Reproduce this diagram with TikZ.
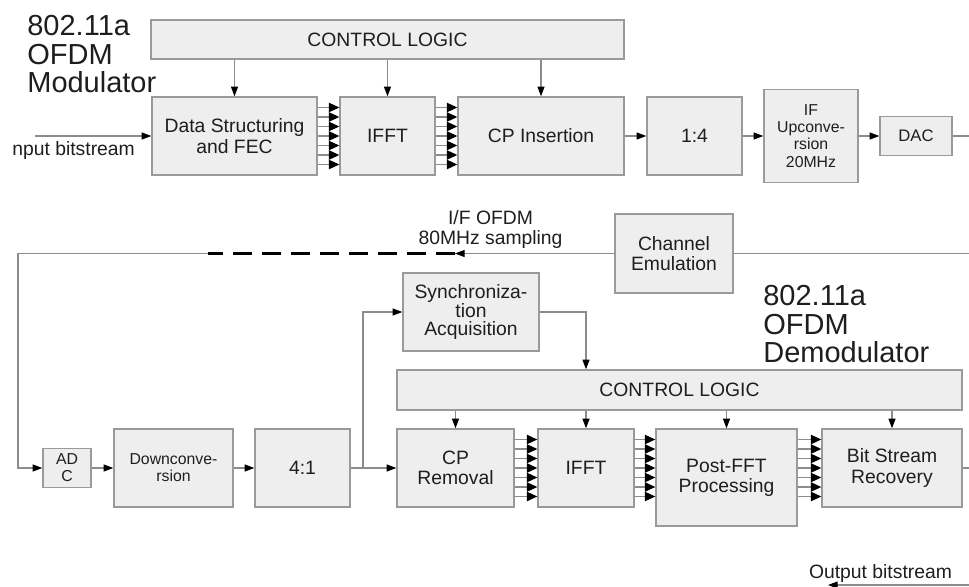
\documentclass[tikz,border=0pt]{standalone}
\usepackage{fontspec}
\setmainfont{Liberation Sans}
\usepackage{tikz}
\usetikzlibrary{positioning, arrows.meta, calc}
\definecolor{boxFill}{HTML}{EEEEEE}
\definecolor{boxLine}{HTML}{9A9A9A}
\definecolor{wireGray}{HTML}{8C8C8C}
\definecolor{inkDark}{HTML}{1E1E1E}

\begin{document}
\begin{tikzpicture}[
  blk/.style={draw=boxLine, fill=boxFill, line width=0.8pt, inner sep=1pt,
              font=\fontsize{11}{11.5}\selectfont, text=inkDark, align=center},
  smallblk/.style={blk, font=\fontsize{9}{9.8}\selectfont},
  title/.style={anchor=north west, inner sep=0pt, align=left,
                font=\fontsize{16.5}{16.2}\selectfont, text=inkDark},
  lbl/.style={inner sep=0pt, font=\fontsize{11}{11.3}\selectfont,
              text=inkDark, align=center},
  wire/.style={draw=wireGray, line width=0.6pt},
  arr/.style={wire, -{Triangle[length=5.5pt, width=4pt, color=black]}},
  bus/.style={wire, -{Triangle[length=6pt, width=5.4pt, color=black]}}
]
\useasboundingbox (0,0) rectangle (19.38,-11.72);

% modulator
\node[title] (txTitle) at (0.54,-0.30) {802.11a\\OFDM\\Modulator};
\node[blk, minimum width=9.46cm, minimum height=0.78cm] (ctrlTx) at (7.75,-0.79) {CONTROL LOGIC};
\node[blk, minimum width=3.30cm, minimum height=1.56cm] (dsf) at (4.69,-2.72) {Data Structuring\\and FEC};
\node[blk, minimum width=1.90cm, minimum height=1.56cm] (ifftTx) at (7.75,-2.72) {IFFT};
\node[blk, minimum width=3.32cm, minimum height=1.56cm] (cpIns) at (10.82,-2.72) {CP Insertion};
\node[blk, minimum width=1.90cm, minimum height=1.56cm] (quadTx) at (13.89,-2.72) {1:4};
\node[smallblk, minimum width=1.88cm, minimum height=1.86cm] (ifUp) at (16.22,-2.72) {IF\\Upconve-\\rsion\\20MHz};
\node[smallblk, font=\fontsize{9.5}{9.6}\selectfont, minimum width=1.44cm, minimum height=0.78cm] (dac) at (18.32,-2.72) {DAC};
\node[lbl, anchor=base west] (inLbl) at (0.24,-3.10) {nput bitstream};
\coordinate (inStart) at (0.70,-2.72);
\coordinate (txOut) at (19.38,-2.72);

% channel loop
\node[lbl, anchor=south] (ifLbl) at (9.81,-4.98) {I/F OFDM\\80MHz sampling};
\node[blk, minimum width=2.36cm, minimum height=1.58cm] (chan) at (13.48,-5.07) {Channel\\Emulation};
\coordinate (loopR) at (19.38,-5.07);
\coordinate (dashR) at (9.10,-5.07);
\coordinate (dashL) at (4.16,-5.07);
\coordinate (loopL) at (0.36,-5.07);

% demodulator
\node[title] (rxTitle) at (15.26,-5.70) {802.11a\\OFDM\\Demodulator};
\node[blk, font=\fontsize{11}{10.5}\selectfont, minimum width=2.72cm, minimum height=1.56cm] (sync) at (9.42,-6.24) {Synchroniza-\\tion\\Acquisition};
\node[blk, minimum width=11.30cm, minimum height=0.80cm] (ctrlRx) at (13.59,-7.80) {CONTROL LOGIC};
\node[smallblk, minimum width=0.96cm, minimum height=0.78cm] (adc) at (1.34,-9.36) {AD\\C};
\node[smallblk, minimum width=2.38cm, minimum height=1.56cm] (down) at (3.47,-9.36) {Downconve-\\rsion};
\node[blk, minimum width=1.90cm, minimum height=1.56cm] (quadRx) at (6.05,-9.36) {4:1};
\node[blk, minimum width=2.34cm, minimum height=1.56cm] (cpRem) at (9.11,-9.36) {CP\\Removal};
\node[blk, minimum width=1.92cm, minimum height=1.56cm] (ifftRx) at (11.72,-9.36) {IFFT};
\node[blk, minimum width=2.82cm, minimum height=1.94cm] (post) at (14.53,-9.55) {Post-FFT\\Processing};
\node[blk, minimum width=2.80cm, minimum height=1.56cm] (bsr) at (17.84,-9.36) {Bit Stream\\Recovery};
\node[lbl, anchor=base] (outLbl) at (17.61,-11.56) {Output bitstream};
\coordinate (split) at (7.26,-9.36);
\coordinate (rxOut) at (19.38,-9.36);
\coordinate (outR) at (19.38,-11.70);
\coordinate (outL) at (16.56,-11.70);

% transmit connectors
\draw[arr] (inStart) -- (dsf.west);
\foreach \b in {dsf, ifftTx, cpIns}
  \draw[arr] (ctrlTx.south -| \b.north) -- (\b.north);
\foreach \k in {-3,...,3} {
  \draw[bus] ([yshift=\k*0.19cm]dsf.east) -- ([yshift=\k*0.19cm]dsf.east -| ifftTx.west);
  \draw[bus] ([yshift=\k*0.19cm]ifftTx.east) -- ([yshift=\k*0.19cm]ifftTx.east -| cpIns.west);
}
\draw[arr] (cpIns.east) -- (quadTx.west);
\draw[arr] (quadTx.east) -- (ifUp.west);
\draw[arr] (ifUp.east) -- (dac.west);
\draw[wire] (dac.east) -- (txOut);

% loop back to receiver
\draw[wire] (loopR) -- (chan.east);
\draw[arr] (chan.west) -- (dashR);
\draw[black, line width=1.6pt, dash pattern=on 11pt off 5.5pt] (dashR) -- (dashL);
\draw[arr] (dashL) -- (loopL) |- (adc.west);

% receive connectors
\draw[arr] (adc.east) -- (down.west);
\draw[arr] (down.east) -- (quadRx.west);
\draw[arr] (quadRx.east) -- (cpRem.west);
\draw[arr] (split) |- (sync.west);
\draw[arr] (sync.east) -| (ctrlRx.north -| ifftRx.north);
\foreach \b in {cpRem, ifftRx, post, bsr}
  \draw[arr] (ctrlRx.south -| \b.north) -- (\b.north);
\foreach \k in {-3,...,3} {
  \draw[bus] ([yshift=\k*0.19cm]cpRem.east) -- ([yshift=\k*0.19cm]cpRem.east -| ifftRx.west);
  \draw[bus] ([yshift=\k*0.19cm]ifftRx.east) -- ([yshift=\k*0.19cm]ifftRx.east -| post.west);
  \draw[bus] ([yshift=\k*0.19cm]bsr.west -| post.east) -- ([yshift=\k*0.19cm]bsr.west);
}
\draw[wire] (bsr.east) -- (rxOut);
\draw[arr] (outR) -- (outL);
\end{tikzpicture}
\end{document}
